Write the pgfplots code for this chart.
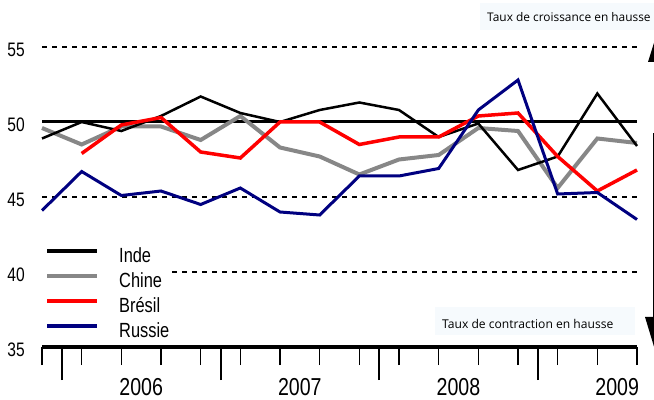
\documentclass[border=0pt]{standalone}
\usepackage{fontspec}
\setmainfont{Liberation Sans}[FakeStretch=0.8]
\newfontfamily\annfont{Open Sans}
\usepackage{pgfplots}
\pgfplotsset{compat=1.18}
\definecolor{navyc}{RGB}{0,0,128}
\definecolor{grayc}{RGB}{135,135,135}
\definecolor{boxc}{RGB}{246,250,253}
\begin{document}
\begin{tikzpicture}
\useasboundingbox (0,0) rectangle (654bp,400bp);
\begin{axis}[
  at={(42bp,53bp)}, anchor=south west,
  scale only axis, width=595bp, height=300bp,
  xmin=0, xmax=15, ymin=35, ymax=55, clip=false,
  axis x line*=bottom, axis y line*=left,
  x axis line style={line width=4bp, -},
  y axis line style={draw=none},
  xtick={0.5,4.5,8.5,12.5}, xticklabels={},
  minor xtick={0,...,15},
  xtick align=outside,
  major tick length=33bp, minor tick length=18bp,
  every major tick/.append style={line width=2bp, black},
  every minor tick/.append style={line width=1.5bp, black},
  extra x ticks={2.5,6.5,10.5,14.5},
  extra x tick labels={2006,2007,2008,2009},
  extra x tick style={major tick length=0pt, xticklabel style={font=\fontsize{24.5bp}{28bp}\selectfont, anchor=north, inner sep=0pt, yshift=-31bp}},
  ytick={35,40,45,50,55},
  ytick align=inside,
  ytick style={draw=none},
  yticklabel style={font=\fontsize{19.5bp}{23bp}\selectfont, anchor=east, inner sep=0pt, xshift=-17bp, yshift=-3bp},
  /pgf/number format/assume math mode=true,
  legend style={at={(rel axis cs:0,0.344)}, anchor=north west, draw=none, fill=white,
    font=\fontsize{20.5bp}{24bp}\selectfont, inner xsep=3bp, inner ysep=3bp,
    row sep=6bp, nodes={inner sep=0pt, text height=15bp, text depth=4bp},
    /tikz/every odd column/.append style={column sep=20bp}},
  legend cell align=left,
  legend image code/.code={\draw[#1, line width=4bp] (0bp,6bp) -- (50bp,6bp);},
]
% reference lines
\addplot[black, line width=1.5bp, dash pattern=on 5bp off 5bp, forget plot] coordinates {(0,55) (15,55)};
\addplot[black, line width=1.5bp, dash pattern=on 5bp off 5bp, forget plot] coordinates {(0,45) (15,45)};
\addplot[black, line width=1.5bp, dash pattern=on 5bp off 5bp, forget plot] coordinates {(0,40) (15,40)};
\addplot[black, line width=3bp, forget plot] coordinates {(0,50) (15,50)};
% Chine
\addplot[grayc, line width=4bp, forget plot] coordinates {
(0,49.6) (1,48.5) (2,49.7) (3,49.7) (4,48.8) (5,50.4) (6,48.3) (7,47.7)
(8,46.5) (9,47.5) (10,47.8) (11,49.6) (12,49.4) (13,45.6) (14,48.9) (15,48.6)};
% Inde
\addplot[black, line width=2.5bp, forget plot] coordinates {
(0,48.9) (1,50.0) (2,49.4) (3,50.4) (4,51.7) (5,50.6) (6,50.0) (7,50.8)
(8,51.3) (9,50.8) (10,49.0) (11,49.9) (12,46.8) (13,47.7) (14,51.9) (15,48.4)};
% Bresil
\addplot[red, line width=3.5bp, forget plot] coordinates {
(1,47.9) (2,49.8) (3,50.3) (4,48.0) (5,47.6) (6,50.0) (7,50.0)
(8,48.5) (9,49.0) (10,49.0) (11,50.4) (12,50.6) (13,47.7) (14,45.4) (15,46.8)};
% Russie
\addplot[navyc, line width=3bp, forget plot] coordinates {
(0,44.1) (1,46.7) (2,45.1) (3,45.4) (4,44.5) (5,45.6) (6,44.0) (7,43.8)
(8,46.4) (9,46.4) (10,46.9) (11,50.8) (12,52.8) (13,45.2) (14,45.3) (15,43.5)};
\addlegendimage{black}\addlegendentry{Inde}
\addlegendimage{grayc}\addlegendentry{Chine}
\addlegendimage{red}\addlegendentry{Brésil}
\addlegendimage{navyc}\addlegendentry{Russie}
\end{axis}
\fill[boxc] (480bp,370bp) rectangle (660bp,397bp);
\node[anchor=west, inner sep=0pt, font=\annfont\fontsize{11.9bp}{14bp}\selectfont] at (487bp,383bp) {Taux de croissance en hausse};
\fill[boxc] (435bp,65bp) rectangle (635bp,93bp);
\node[anchor=west, inner sep=0pt, font=\annfont\fontsize{12.1bp}{14bp}\selectfont] at (442bp,76bp) {Taux de contraction en hausse};
\draw[line width=1.5bp] (654bp,267bp) -- (654bp,83bp);
\fill (645bp,83bp) -- (665bp,83bp) -- (655bp,50bp) -- cycle;
\fill (648bp,338bp) -- (668bp,338bp) -- (658bp,370bp) -- cycle;
\end{tikzpicture}
\end{document}
